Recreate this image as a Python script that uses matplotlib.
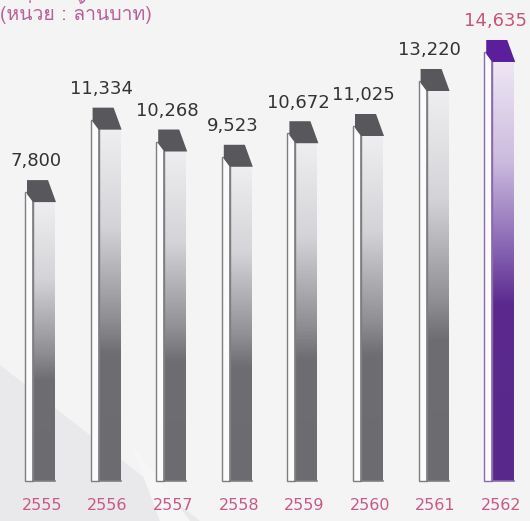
import numpy as np
import matplotlib
matplotlib.use("Agg")
import matplotlib.pyplot as plt
from matplotlib.colors import LinearSegmentedColormap
from matplotlib.patches import Polygon, Rectangle
from matplotlib import font_manager
from matplotlib.ft2font import FT2Font

# data
years = ["2555", "2556", "2557", "2558", "2559", "2560", "2561", "2562"]
values = [7800, 11334, 10268, 9523, 10672, 11025, 13220, 14635]
value_labels = ["7,800", "11,334", "10,268", "9,523", "10,672", "11,025", "13,220", "14,635"]
title = "(หน่วย : ล้านบาท)"

# find a font that has thai glyphs
thai_font = None
for f in font_manager.fontManager.ttflist:
    try:
        if 0x0E2B in FT2Font(f.fname).get_charmap():
            thai_font = f.name
            break
    except Exception:
        pass
title_family = [thai_font, "DejaVu Sans"] if thai_font else ["DejaVu Sans"]

W, H = 530, 521
px_x = 1 / 65.6          # data units per pixel, x
px_y = 1 / 0.0205        # data units per pixel, y
y_top = 340 * px_y
y_bot = y_top - H * px_y
base = y_top - 481 * px_y

grey_cmap = LinearSegmentedColormap.from_list("g", [(0, "#6b6b70"), (0.36, "#6d6d72"), (0.46, "#8f8f94"),
                                                    (0.72, "#d4d4d8"), (1, "#efeff1")])
purple_cmap = LinearSegmentedColormap.from_list("p", [(0, "#58288a"), (0.42, "#5c2a8f"), (0.54, "#8360b0"),
                                                      (0.76, "#cdbbdf"), (1, "#eee8f4")])
grad = np.linspace(0, 1, 256).reshape(-1, 1)

fig = plt.figure(figsize=(W / 100, H / 100), dpi=100)
fig.patch.set_facecolor("#f4f4f5")
ax = fig.add_axes([0, 0, 1, 1])
ax.set_axis_off()

# soft diagonal shading in the background, behind the bars
ax.add_patch(Polygon([(0, 0), (0, (H - 365) / H), (200 / W, 0)], closed=True,
                     transform=ax.transAxes, facecolor="#e9e9eb", edgecolor="none", zorder=0))
ax.add_patch(Polygon([(160 / W, 0), (190 / W, 0), (130 / W, 80 / H)], closed=True,
                     transform=ax.transAxes, facecolor="#f6f6f7", edgecolor="none", zorder=0))

for i, v in enumerate(values):
    last = i == len(values) - 1
    cmap = purple_cmap if last else grey_cmap
    edge = "#8a6aaa" if last else "#7d7d82"
    cap_c = "#5b1f9c" if last else "#58585c"
    L = i - 15 * px_x
    S = i - 7 * px_x
    R = i + 15 * px_x
    cap_h = 22 * px_y
    # main face
    ax.imshow(grad, cmap=cmap, extent=(S, R, base, v - cap_h + 2 * px_y), origin="lower",
              aspect="auto", zorder=2)
    # left strip
    ax.add_patch(Rectangle((L, base), S - L, v - 12 * px_y - base, facecolor="#fbfbfc",
                           edgecolor=edge, lw=1.0, zorder=3))
    ax.plot([S, S], [base, v - cap_h], color=edge, lw=1.2, zorder=3)
    ax.plot([S, R], [base, base], color=edge, lw=1.2, zorder=3)
    # cap on top
    cap = [(L + 2 * px_x, v), (L + 23 * px_x, v), (L + 31 * px_x, v - cap_h),
           (L + 8 * px_x, v - cap_h), (L + 2 * px_x, v - 14 * px_y)]
    ax.add_patch(Polygon(cap, closed=True, facecolor=cap_c, edgecolor="none", zorder=4))
    ax.annotate(value_labels[i], (i, v), xytext=(-3, 7), textcoords="offset points",
                ha="center", va="bottom", fontsize=13,
                color="#c4567e" if last else "#333333", zorder=5)
    ax.text(i + 2 * px_x, (H - 506) / H, years[i], transform=ax.get_xaxis_transform(),
            ha="center", va="center", fontsize=11.5, color="#c85a85")

fig.text(0.0, 1 - 20 / H, title, family=title_family, fontsize=14, color="#b8609a",
         ha="left", va="baseline")

ax.set_xlim(-40 * px_x, (W - 40) * px_x)
ax.set_ylim(y_bot, y_top)

fig.savefig("out.png", dpi=100, facecolor=fig.get_facecolor())
